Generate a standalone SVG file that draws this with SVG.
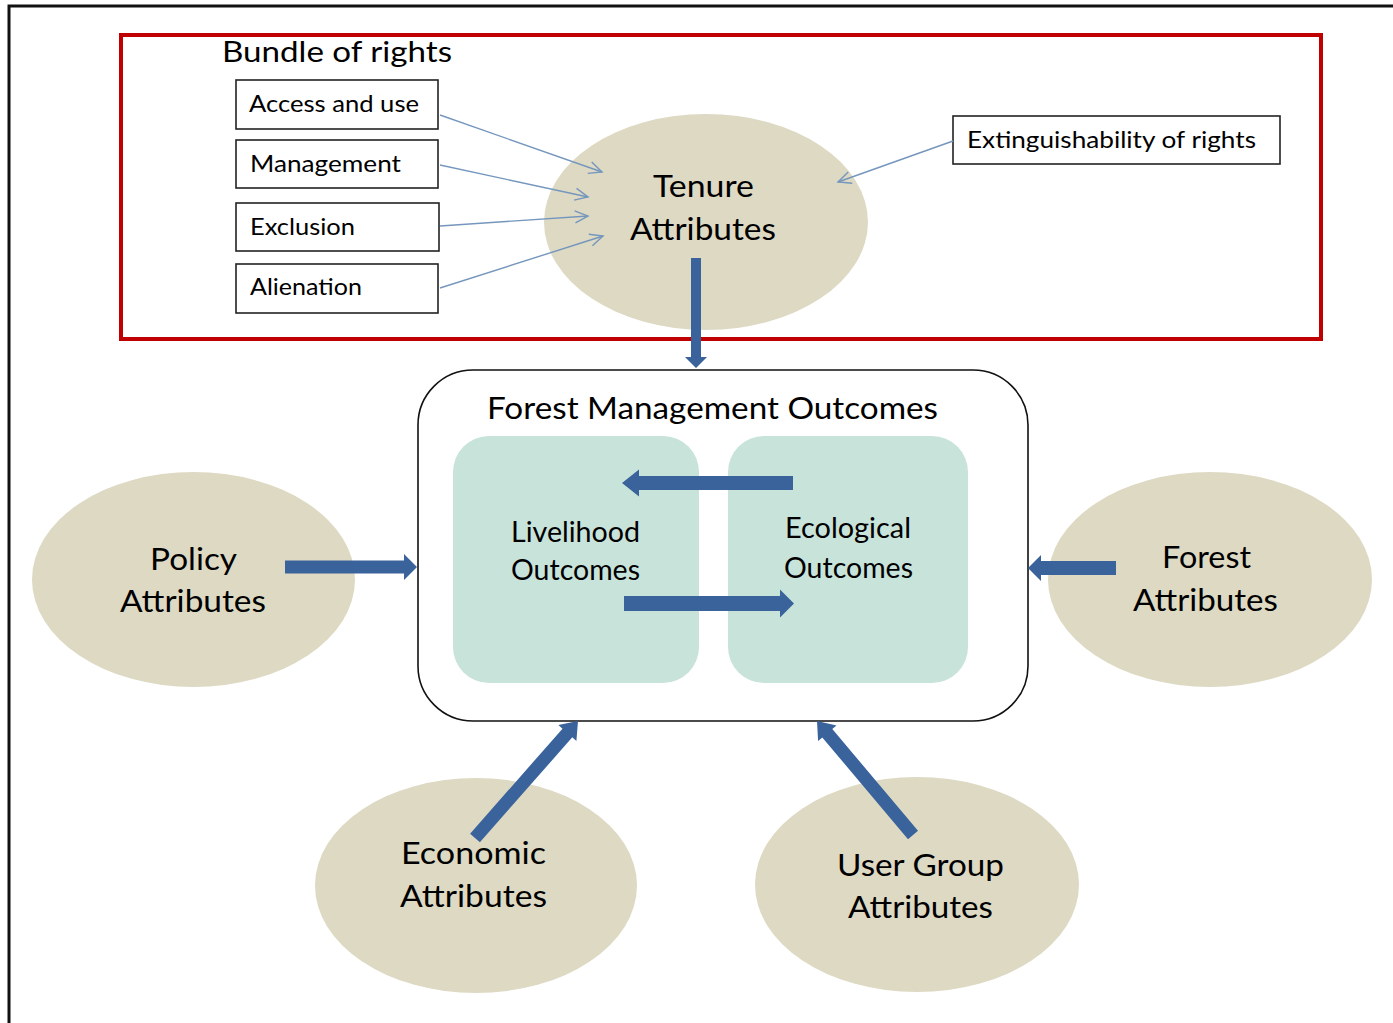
<svg xmlns="http://www.w3.org/2000/svg" width="1393" height="1023" viewBox="0 0 1393 1023">
<defs>
<style>
.t{font-family:Lato,"Liberation Sans",sans-serif;fill:#000;}
.big{font-size:31px;}
.mid{font-size:29px;}
.sm{font-size:24px;}
.box{fill:#fff;stroke:#222;stroke-width:1.6;}
.ell{fill:#ddd9c3;}
.inner{fill:#c8e3da;}
.thin{stroke:#7596bd;stroke-width:1.4;fill:none;}
.blk{fill:#3a639c;}
</style>
<marker id="open" markerUnits="userSpaceOnUse" markerWidth="16" markerHeight="16" refX="14" refY="7" orient="auto" viewBox="0 0 16 14">
<path d="M1,1 L14,7 L1,13" fill="none" stroke="#7596bd" stroke-width="1.4"/>
</marker>
</defs>
<rect width="1393" height="1023" fill="#fff"/>
<g id="frame">
<path d="M9,1023 L9,6 L1393,6" fill="none" stroke="#111" stroke-width="3"/>
</g>
<g id="bundle">
<rect x="121" y="35" width="1200" height="304" fill="none" stroke="#c00000" stroke-width="4"/>
<text class="t mid" x="222" y="62" textLength="230" lengthAdjust="spacingAndGlyphs">Bundle of rights</text>
</g>
<g id="access"><rect class="box" x="236" y="80" width="202" height="49"/><text class="t sm" x="249" y="112" textLength="170" lengthAdjust="spacingAndGlyphs">Access and use</text></g>
<g id="management"><rect class="box" x="236" y="140" width="202" height="48"/><text class="t sm" x="250" y="172" textLength="151" lengthAdjust="spacingAndGlyphs">Management</text></g>
<g id="exclusion"><rect class="box" x="236" y="203" width="203" height="48"/><text class="t sm" x="250" y="235" textLength="105" lengthAdjust="spacingAndGlyphs">Exclusion</text></g>
<g id="alienation"><rect class="box" x="236" y="264" width="202" height="49"/><text class="t sm" x="250" y="295" textLength="112" lengthAdjust="spacingAndGlyphs">Alienation</text></g>
<g id="extinguishability"><rect class="box" x="953" y="116" width="327" height="48"/><text class="t sm" x="967" y="148" textLength="289" lengthAdjust="spacingAndGlyphs">Extinguishability of rights</text></g>
<g id="tenure">
<ellipse class="ell" cx="706" cy="222" rx="162" ry="108"/>
<text class="t big" x="653" y="197" textLength="101" lengthAdjust="spacingAndGlyphs">Tenure</text>
<text class="t big" x="630" y="240" textLength="146" lengthAdjust="spacingAndGlyphs">Attributes</text>
</g>
<g id="fmo">
<rect x="418" y="370" width="610" height="351" rx="55" ry="55" fill="#fff" stroke="#111" stroke-width="1.6"/>
<text class="t big" x="487" y="419" textLength="451" lengthAdjust="spacingAndGlyphs">Forest Management Outcomes</text>
</g>
<g id="livelihood">
<rect class="inner" x="453" y="436" width="246" height="247" rx="36" ry="36"/>
<text class="t mid" x="511" y="542" textLength="129" lengthAdjust="spacingAndGlyphs">Livelihood</text>
<text class="t mid" x="511" y="580" textLength="129" lengthAdjust="spacingAndGlyphs">Outcomes</text>
</g>
<g id="ecological">
<rect class="inner" x="728" y="436" width="240" height="247" rx="36" ry="36"/>
<text class="t mid" x="785" y="538" textLength="126" lengthAdjust="spacingAndGlyphs">Ecological</text>
<text class="t mid" x="784" y="578" textLength="129" lengthAdjust="spacingAndGlyphs">Outcomes</text>
</g>
<g id="policy">
<ellipse class="ell" cx="193.5" cy="579.5" rx="161.5" ry="107.5"/>
<text class="t big" x="150" y="570" textLength="87" lengthAdjust="spacingAndGlyphs">Policy</text>
<text class="t big" x="120" y="612" textLength="146" lengthAdjust="spacingAndGlyphs">Attributes</text>
</g>
<g id="forest">
<ellipse class="ell" cx="1210" cy="579.5" rx="162" ry="107.5"/>
<text class="t big" x="1162" y="568" textLength="89" lengthAdjust="spacingAndGlyphs">Forest</text>
<text class="t big" x="1133" y="611" textLength="145" lengthAdjust="spacingAndGlyphs">Attributes</text>
</g>
<g id="economic">
<ellipse class="ell" cx="476" cy="885.5" rx="161" ry="107.5"/>
<text class="t big" x="401" y="864" textLength="145" lengthAdjust="spacingAndGlyphs">Economic</text>
<text class="t big" x="400" y="907" textLength="147" lengthAdjust="spacingAndGlyphs">Attributes</text>
</g>
<g id="usergroup">
<ellipse class="ell" cx="917" cy="884.5" rx="162" ry="107.5"/>
<text class="t big" x="837" y="876" textLength="167" lengthAdjust="spacingAndGlyphs">User Group</text>
<text class="t big" x="848" y="918" textLength="145" lengthAdjust="spacingAndGlyphs">Attributes</text>
</g>
<g id="connectors">
<line class="thin" x1="440" y1="115" x2="602" y2="172" marker-end="url(#open)"/>
<line class="thin" x1="440" y1="165" x2="588" y2="197" marker-end="url(#open)"/>
<line class="thin" x1="440" y1="226" x2="588" y2="216" marker-end="url(#open)"/>
<line class="thin" x1="440" y1="288" x2="603" y2="236" marker-end="url(#open)"/>
<line class="thin" x1="953" y1="141" x2="838" y2="182" marker-end="url(#open)"/>
<polygon class="blk" points="691,258 701,258 701,357 707,357 696,368 685,357 691,357"/>
<polygon class="blk" points="285,560.5 404,560.5 404,554 417,567 404,580 404,573.5 285,573.5"/>
<polygon class="blk" points="1116,561 1041,561 1041,555 1028,568 1041,581 1041,575 1116,575"/>
<polygon class="blk" points="793,476 639,476 639,469.5 622,483 639,496.5 639,490 793,490"/>
<polygon class="blk" points="624,596 780,596 780,589.5 794,603.5 780,617.5 780,611 624,611"/>
<polygon class="blk" points="470.1,833.7 562.5,728.7 558.4,725.1 578,721 576.4,740.9 572.3,737.3 479.9,842.3"/>
<polygon class="blk" points="908.0,839.2 822.3,737.4 818.1,740.9 817,721 836.5,725.5 832.3,729.0 918.0,830.8"/>
</g>
</svg>
